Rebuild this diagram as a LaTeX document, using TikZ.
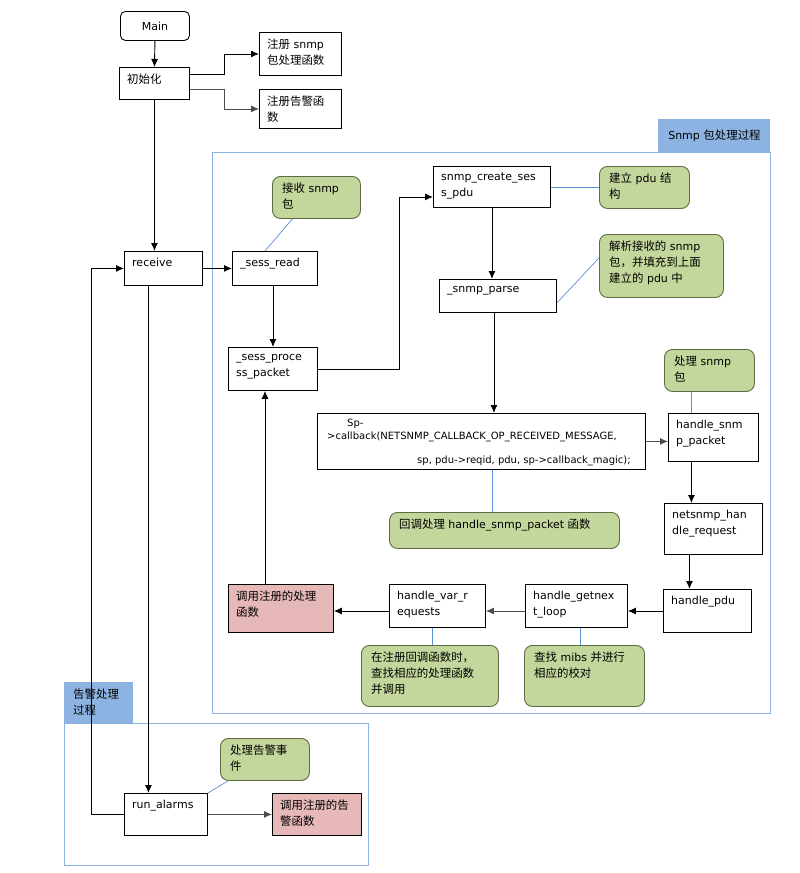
\documentclass[tikz,border=0pt]{standalone}
\usepackage{fontspec}
\setmainfont{DejaVu Sans}
\newfontfamily\cjk[Scale=1.04]{Noto Sans CJK SC}
\usetikzlibrary{arrows.meta,positioning,calc}

\newcommand{\zh}[1]{{\cjk #1}}
\definecolor{notegreen}{HTML}{C3D69B}
\definecolor{notebd}{HTML}{5E6B45}
\definecolor{hotpink}{HTML}{E6B9B8}
\definecolor{grpblue}{HTML}{8DB3E2}
\definecolor{linkblue}{HTML}{5B8FD6}

\tikzset{
  box/.style={draw, fill=white, line width=0.9pt, anchor=north west, inner sep=0pt},
  note/.style={box, fill=notegreen, draw=notebd, rounded corners=8pt},
  hot/.style={box, fill=hotpink},
  txt/.style={anchor=north west, align=left, inner xsep=8pt, inner ysep=7pt},
  ntxt/.style={txt, inner xsep=10pt},
  cbtxt/.style={txt, inner xsep=10pt, inner ysep=6pt, font=\fontsize{10}{13}\selectfont},
  arr/.style={-{Latex[length=8pt,width=7pt]}, line width=0.9pt},
  garr/.style={arr, draw=black!70},
  link/.style={draw=linkblue, line width=0.7pt},
  frame/.style={draw=grpblue, line width=0.9pt},
}

\begin{document}
\begin{tikzpicture}[x=1pt, y=-1pt, font=\fontsize{11}{16}\selectfont]
  \useasboundingbox (0,0) rectangle (800,873);

  \draw[frame] (212,152) rectangle (770,713);
  \node[box, draw=none, fill=grpblue, minimum width=112, minimum height=33] (snmpgrp) at (658,119) {Snmp \zh{包处理过程}};
  \draw[frame] (64,723) rectangle (368,865);
  \node[box, draw=none, fill=grpblue, minimum width=69, minimum height=41] (alarmgrp) at (64,682) {};
  \node[txt, inner xsep=9pt] (alarmgrptext) at (alarmgrp.north west) {\zh{告警处理}\\\zh{过程}};

  \node[box, rounded corners=5pt, minimum width=69, minimum height=29] (main) at (120,11) {Main};
  \node[box, minimum width=70, minimum height=32] (init) at (119,67) {};
  \node[txt] (inittext) at (init.north west) {\zh{初始化}};
  \node[box, minimum width=82, minimum height=43] (regsnmp) at (259,32) {};
  \node[txt] (regsnmptext) at (regsnmp.north west) {\zh{注册} snmp\\\zh{包处理函数}};
  \node[box, minimum width=82, minimum height=39] (regalarm) at (259,89) {};
  \node[txt] (regalarmtext) at (regalarm.north west) {\zh{注册告警函}\\\zh{数}};
  \node[box, minimum width=78, minimum height=34] (receive) at (124,251) {};
  \node[txt] (receivetext) at (receive.north west) {receive};
  \node[box, minimum width=85, minimum height=34] (sessread) at (232,251) {};
  \node[txt] (sessreadtext) at (sessread.north west) {\_sess\_read};
  \node[note, minimum width=88, minimum height=42] (rcvnote) at (272,176) {};
  \node[ntxt] (rcvnotetext) at (rcvnote.north west) {\zh{接收} snmp\\\zh{包}};
  \node[box, minimum width=89, minimum height=43] (sessproc) at (228,347) {};
  \node[txt] (sessproctext) at (sessproc.north west) {\_sess\_proce\\ss\_packet};
  \node[box, minimum width=117, minimum height=41] (create) at (433,166) {};
  \node[txt] (createtext) at (create.north west) {snmp\_create\_ses\\s\_pdu};
  \node[note, minimum width=90, minimum height=42] (pdunote) at (599,166) {};
  \node[ntxt] (pdunotetext) at (pdunote.north west) {\zh{建立} pdu \zh{结}\\\zh{构}};
  \node[box, minimum width=117, minimum height=33] (parse) at (439,279) {};
  \node[txt] (parsetext) at (parse.north west) {\_snmp\_parse};
  \node[note, minimum width=124, minimum height=63] (parsenote) at (599,234) {};
  \node[ntxt] (parsenotetext) at (parsenote.north west) {\zh{解析接收的} snmp\\\zh{包，并填充到上面}\\\zh{建立的} pdu \zh{中}};
  \node[box, minimum width=328, minimum height=56] (callback) at (317,413) {};
  \node[cbtxt] (callbacktext) at (callback.north west) {\hspace*{20pt}Sp-\\>callback(NETSNMP\_CALLBACK\_OP\_RECEIVED\_MESSAGE,\\[11pt]\hspace*{90pt}sp, pdu->reqid, pdu, sp->callback\_magic);};
  \node[note, minimum width=90, minimum height=42] (hsnmpnote) at (664,349) {};
  \node[ntxt] (hsnmpnotetext) at (hsnmpnote.north west) {\zh{处理} snmp\\\zh{包}};
  \node[box, minimum width=90, minimum height=48] (hsnmp) at (668,413) {};
  \node[txt] (hsnmptext) at (hsnmp.north west) {handle\_snm\\p\_packet};
  \node[note, minimum width=230, minimum height=36] (cbnote) at (389,512) {};
  \node[ntxt] (cbnotetext) at (cbnote.north west) {\zh{回调处理} handle\_snmp\_packet \zh{函数}};
  \node[box, minimum width=98, minimum height=51] (netsnmp) at (664,503) {};
  \node[txt] (netsnmptext) at (netsnmp.north west) {netsnmp\_han\\dle\_request};
  \node[box, minimum width=88, minimum height=43] (hpdu) at (663,589) {};
  \node[txt] (hpdutext) at (hpdu.north west) {handle\_pdu};
  \node[box, minimum width=102, minimum height=43] (getnext) at (525,584) {};
  \node[txt] (getnexttext) at (getnext.north west) {handle\_getnex\\t\_loop};
  \node[box, minimum width=96, minimum height=43] (varreq) at (389,584) {};
  \node[txt] (varreqtext) at (varreq.north west) {handle\_var\_r\\equests};
  \node[hot, minimum width=105, minimum height=48] (cbreg) at (228,584) {};
  \node[txt] (cbregtext) at (cbreg.north west) {\zh{调用注册的处理}\\\zh{函数}};
  \node[note, minimum width=137, minimum height=61] (varnote) at (361,645) {};
  \node[ntxt] (varnotetext) at (varnote.north west) {\zh{在注册回调函数时，}\\\zh{查找相应的处理函数}\\\zh{并调用}};
  \node[note, minimum width=120, minimum height=61] (mibnote) at (524,645) {};
  \node[ntxt] (mibnotetext) at (mibnote.north west) {\zh{查找} mibs \zh{并进行}\\\zh{相应的校对}};
  \node[box, minimum width=83, minimum height=42] (alarms) at (124,793) {};
  \node[txt] (alarmstext) at (alarms.north west) {run\_alarms};
  \node[note, minimum width=89, minimum height=42] (alarmnote) at (220,738) {};
  \node[ntxt] (alarmnotetext) at (alarmnote.north west) {\zh{处理告警事}\\\zh{件}};
  \node[hot, minimum width=89, minimum height=42] (cbalarm) at (272,793) {};
  \node[txt] (cbalarmtext) at (cbalarm.north west) {\zh{调用注册的告}\\\zh{警函数}};

  \draw[arr] (main.south) -- (init.north);
  \draw[arr] ([yshift=-7pt]init.north east) -- ++(35,0) |- (regsnmp.west);
  \draw[garr] ([yshift=-22pt]init.north east) -- ++(35,0) |- (regalarm.west);
  \draw[arr] (init.south) -- (init.south |- receive.north);
  \draw[arr] (receive.east) -- (sessread.west);
  \draw[arr] (sessproc.north |- sessread.south) -- (sessproc.north);
  \draw[arr] (sessproc.east) -- ++(82,0) |- ([yshift=-10pt]create.west);
  \draw[arr] (create.south) -- (create.south |- parse.north);
  \draw[arr] ([xshift=-4pt]parse.south) -- ([xshift=-4pt]parse.south |- callback.north);
  \draw[garr] (callback.east) -- (callback.east -| hsnmp.west);
  \draw[arr] ([xshift=-22pt]hsnmp.south) -- ([xshift=-22pt]hsnmp.south |- netsnmp.north);
  \draw[arr] ([xshift=-24pt]netsnmp.south) -- ([xshift=-24pt]netsnmp.south |- hpdu.north);
  \draw[arr] (hpdu.west) -- (hpdu.west -| getnext.east);
  \draw[garr] (hpdu.west -| getnext.west) -- (hpdu.west -| varreq.east);
  \draw[arr] (hpdu.west -| varreq.west) -- (hpdu.west -| cbreg.east);
  \draw[arr] ([xshift=-8pt]sessproc.south |- cbreg.north) -- ([xshift=-8pt]sessproc.south);
  \draw[arr] ([xshift=-15pt]receive.south) -- ([xshift=-15pt]receive.south |- alarms.north);
  \draw[arr] (alarms.west) -- ++(-33,0) |- (receive.west);
  \draw[garr] (alarms.east) -- (cbalarm.west);

  \draw[link] ([xshift=-10pt]sessread.north) -- ([xshift=-24pt]rcvnote.south);
  \draw[link] (create.east) -- (create.east -| pdunote.west);
  \draw[link] ([yshift=10pt]parse.south east) -- ([yshift=8pt]parsenote.west);
  \draw[link] ([xshift=-18pt]hsnmpnote.south) -- ([xshift=-18pt]hsnmpnote.south |- hsnmp.north);
  \draw[link] ([xshift=11pt]callback.south) -- ([xshift=11pt]callback.south |- cbnote.north);
  \draw[link] ([xshift=-5pt]varreq.south) -- ([xshift=-5pt]varreq.south |- varnote.north);
  \draw[link] ([xshift=4pt]getnext.south) -- ([xshift=4pt]getnext.south |- mibnote.north);
  \draw[link] ([xshift=8pt]alarmnote.south west) -- (alarms.north east);
\end{tikzpicture}
\end{document}
